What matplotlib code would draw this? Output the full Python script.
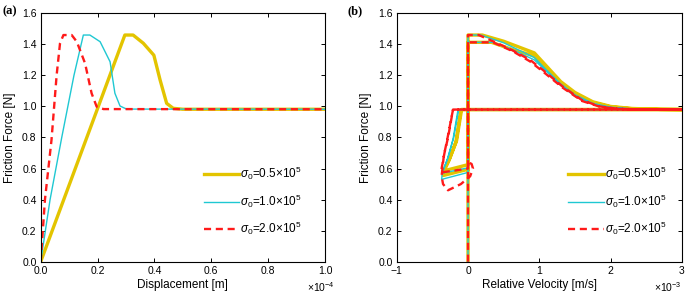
import numpy as np
import matplotlib
matplotlib.use("Agg")
import matplotlib.pyplot as plt
from matplotlib.ticker import ScalarFormatter, FormatStrFormatter, MultipleLocator

plt.rcParams['font.family'] = ['Liberation Sans', 'DejaVu Sans']
plt.rcParams['mathtext.fontset'] = 'custom'
plt.rcParams['mathtext.rm'] = 'Liberation Sans'
plt.rcParams['mathtext.it'] = 'Liberation Sans:italic'

# ---------------- data ----------------
labels = [r'$\sigma_0$=0.5$\times$10$^5$', r'$\sigma_0$=1.0$\times$10$^5$', r'$\sigma_0$=2.0$\times$10$^5$']

# panel (a): displacement [m] vs friction force [N]
disp_05 = np.array([0, 0.296, 0.325, 0.361, 0.398, 0.42, 0.443, 0.466, 0.50, 1.0]) * 1e-4
force_05 = [0, 1.46, 1.46, 1.407, 1.33, 1.17, 1.02, 0.988, 0.982, 0.982]
disp_10 = np.array([0, 0.033, 0.074, 0.117, 0.150, 0.173, 0.209, 0.244, 0.261, 0.279, 0.302, 1.0]) * 1e-4
force_10 = [0, 0.40, 0.80, 1.20, 1.46, 1.46, 1.417, 1.288, 1.085, 1.003, 0.983, 0.982]
disp_20 = np.array([0, 0.015, 0.027, 0.038, 0.056, 0.068, 0.080, 0.109, 0.127, 0.156, 0.179, 0.197, 0.221, 1.0]) * 1e-4
force_20 = [0, 0.40, 0.60, 0.784, 1.20, 1.407, 1.46, 1.46, 1.417, 1.278, 1.085, 0.998, 0.983, 0.982]

# panel (b): relative velocity [m/s] vs friction force [N]
vel_05 = np.array([0, 0, 0.20, 0.50, 0.93, 1.10, 1.30, 1.50, 1.75, 2.00, 2.30, 2.70, 3.00,
                   -0.09, -0.16, -0.26, -0.33, -0.34, 0,
                   0, 0.33, 0.60, 0.93, 1.10, 1.30, 1.50, 1.75, 2.00, 2.30, 2.70, 3.00,
                   -0.10, -0.17, -0.27, -0.34, -0.35, 0]) * 1e-3
fvel_05 = [0, 1.46, 1.46, 1.42, 1.345, 1.26, 1.16, 1.09, 1.03, 1.0, 0.987, 0.981, 0.98,
           0.98, 0.78, 0.66, 0.60, 0.585, 0.625,
           1.413, 1.413, 1.37, 1.325, 1.24, 1.15, 1.08, 1.025, 0.997, 0.985, 0.981, 0.98,
           0.98, 0.77, 0.65, 0.58, 0.555, 0.595]
vel_10 = np.array([0, 0, 0.18, 0.50, 0.93, 1.10, 1.30, 1.50, 1.75, 2.00, 2.30, 3.00,
                   -0.13, -0.20, -0.28, -0.35, -0.36, 0,
                   0, 0.35, 0.60, 0.93, 1.10, 1.30, 1.50, 1.75, 2.00, 2.30, 3.00,
                   -0.14, -0.21, -0.29, -0.36, -0.37, 0]) * 1e-3
fvel_10 = [0, 1.46, 1.46, 1.41, 1.315, 1.235, 1.145, 1.075, 1.02, 0.995, 0.984, 0.98,
           0.98, 0.80, 0.67, 0.59, 0.57, 0.605,
           1.413, 1.413, 1.37, 1.30, 1.225, 1.135, 1.065, 1.015, 0.992, 0.983, 0.98,
           0.98, 0.79, 0.66, 0.57, 0.53, 0.575]
vel_20 = np.array([0, 0, 0.15, 0.40, 0.63, 0.87, 1.05, 1.33, 1.60, 1.85, 2.10, 2.50, 3.00,
                   -0.21, -0.28, -0.33, -0.37, -0.37, 0,
                   0, 0.35, 0.63, 0.87, 1.05, 1.33, 1.60, 1.85, 2.10, 2.50, 3.00,
                   -0.21, -0.29, -0.34, -0.37, -0.35, -0.28, -0.10, 0.03, 0.07, 0.05, 0]) * 1e-3
fvel_20 = [0, 1.46, 1.46, 1.41, 1.36, 1.30, 1.235, 1.127, 1.04, 1.0, 0.985, 0.98, 0.98,
           0.98, 0.80, 0.70, 0.60, 0.575, 0.60,
           1.413, 1.413, 1.355, 1.29, 1.225, 1.12, 1.035, 0.998, 0.985, 0.98, 0.98,
           0.98, 0.79, 0.68, 0.55, 0.50, 0.46, 0.50, 0.55, 0.60, 0.63, 0.64]

colors = ['#E3C400', '#1FC8D2', '#FF1A1A']
widths = [2.4, 1.0, 1.7]


class FixedOrderFormatter(ScalarFormatter):
    def __init__(self, order, fmt):
        self._order = order
        self._fmt = fmt
        super().__init__(useOffset=False, useMathText=True)

    def _set_order_of_magnitude(self):
        self.orderOfMagnitude = self._order

    def _set_format(self):
        self.format = self._fmt


# ---------------- figure ----------------
fig = plt.figure(figsize=(6.85, 3.01), dpi=100)
axa = fig.add_axes([0.0594, 0.1306, 0.4151, 0.8252])
axb = fig.add_axes([0.5791, 0.1306, 0.4165, 0.8252])

def style(ax):
    ax.tick_params(direction='in', top=True, right=True, length=3, width=0.7, labelsize=7.5, pad=3)
    for s in ax.spines.values():
        s.set_linewidth(0.8)
    ax.set_ylim(0, 1.6)
    ax.yaxis.set_major_locator(MultipleLocator(0.2))
    ax.yaxis.set_major_formatter(FormatStrFormatter('%.1f'))
    ax.set_ylabel('Friction Force [N]', fontsize=8.5, labelpad=4)

# panel a
series_a = [(disp_05, force_05), (disp_10, force_10), (disp_20, force_20)]
for i, (x, y) in enumerate(series_a):
    ls = '--' if i == 2 else '-'
    line, = axa.plot(x, y, color=colors[i], lw=widths[i], ls=ls, label=labels[i])
    if i == 2:
        line.set_dashes((3, 2))
axa.set_xlim(0, 1e-4)
axa.xaxis.set_major_locator(MultipleLocator(0.2e-4))
axa.xaxis.set_major_formatter(FixedOrderFormatter(-4, '%1.1f'))
axa.set_xlabel('Displacement [m]', fontsize=8.5, labelpad=2)
style(axa)

# panel b
series_b = [(vel_05, fvel_05), (vel_10, fvel_10), (vel_20, fvel_20)]
for i, (x, y) in enumerate(series_b):
    ls = '--' if i == 2 else '-'
    line, = axb.plot(x, y, color=colors[i], lw=widths[i], ls=ls, label=labels[i])
    if i == 2:
        line.set_dashes((3, 2))
axb.set_xlim(-1e-3, 3e-3)
axb.xaxis.set_major_locator(MultipleLocator(1e-3))
axb.xaxis.set_major_formatter(FixedOrderFormatter(-3, '%1.0f'))
axb.set_xlabel('Relative Velocity [m/s]', fontsize=8.5, labelpad=2)
style(axb)

axa.xaxis.get_offset_text().set_x(1.035)
for ax, bx in ((axa, 0.935), (axb, 0.962)):
    ax.xaxis.get_offset_text().set_fontsize(7.5)
    ax.legend(loc='lower right', bbox_to_anchor=(bx, 0.08), frameon=False, fontsize=8.5,
              handlelength=3.0, handletextpad=0.1, labelspacing=0.85, borderaxespad=0)

fig.text(0.003, 0.962, '(a)', fontsize=9, fontweight='bold', family='Liberation Serif', va='center')
fig.text(0.508, 0.962, '(b)', fontsize=9, fontweight='bold', family='Liberation Serif', va='center')

fig.savefig('out.png', dpi=100)
